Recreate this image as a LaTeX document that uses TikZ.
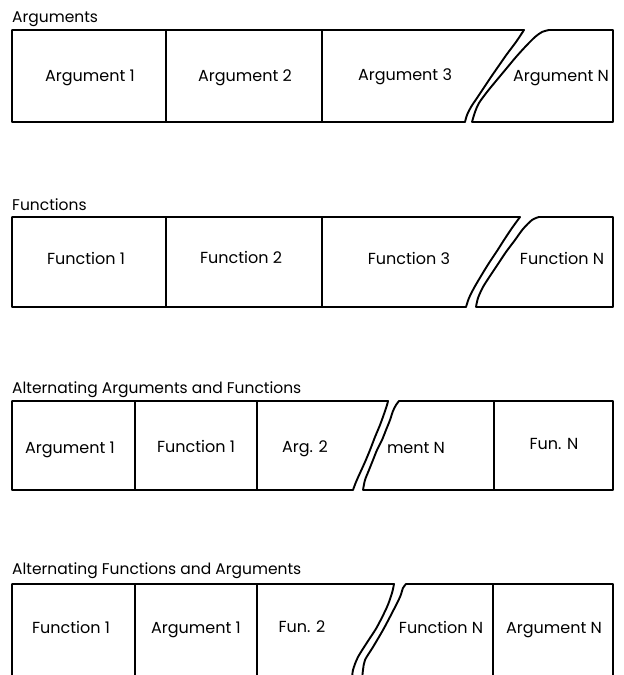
\documentclass[tikz,border=0pt]{standalone}
\usepackage{fontspec}
\setmainfont{Poppins}

\tikzset{
  frame/.style={line width=1.9pt, line join=round, line cap=round},
  sep/.style={line width=1.2pt},
  cell/.style={font=\fontsize{16}{18}\selectfont, anchor=base, inner sep=0pt},
  title/.style={font=\fontsize{15.5}{17}\selectfont, anchor=base west, inner sep=0pt}
}

\begin{document}
\begin{tikzpicture}[x=1pt,y=-1pt]
    \useasboundingbox (0,0) rectangle (624,675);
    % row 1
    \node[title] (argttl) at (12,22) {Arguments};
    \draw[frame] (524,30) -- (12,30) -- (12,122) -- (465,122)
        -- plot[smooth] coordinates {(465,122) (467,115) (471,107) (477,98) (483,89) (491,77) (500,64) (507,54) (516,42) (524,30)} -- cycle;
    \draw[frame] (472,122) -- (613,122) -- (613,30) -- (549,30)
        -- plot[smooth] coordinates {(549,30) (542,32) (535,37) (526,46) (516,57) (506,69) (496,81) (487,92) (479,103) (475,112) (472,122)};
    \draw[sep] (166,30) -- (166,122);
    \draw[sep] (322,30) -- (322,122);
    \node[cell] (arg1) at (90,81) {Argument 1};
    \node[cell] (arg2) at (245,81) {Argument 2};
    \node[cell] (arg3) at (405,80) {Argument 3};
    \node[cell] (argN) at (561,81) {Argument N};
    % row 2
    \node[title] (funttl) at (12,210) {Functions};
    \draw[frame] (520,217) -- (12,217) -- (12,307) -- (466,307)
        -- plot[smooth] coordinates {(466,307) (469,298) (474,288) (481,276) (489,263) (497,251) (504,240) (512,228) (520,217)} -- cycle;
    \draw[frame] (476,307) -- (613,307) -- (613,217) -- (539,217)
        -- plot[smooth] coordinates {(539,217) (532,220) (523,229) (515,240) (506,252) (498,264) (490,276) (483,287) (478,298) (476,307)};
    \draw[sep] (166,217) -- (166,307);
    \draw[sep] (322,217) -- (322,307);
    \node[cell] (fun1) at (86,264) {Function 1};
    \node[cell] (fun2) at (241,263) {Function 2};
    \node[cell] (fun3) at (409,264) {Function 3};
    \node[cell] (funN) at (562,264) {Function N};
    % row 3
    \node[title] (afttl) at (12,393) {Alternating Arguments and Functions};
    \draw[frame] (388,401) -- (12,401) -- (12,490) -- (353,490)
        -- plot[smooth] coordinates {(353,490) (356,482) (360,473) (365,462) (370,450) (375,437) (380,425) (384,414) (387,405) (388,401)} -- cycle;
    \draw[frame] (363,490) -- (613,490) -- (613,401) -- (399,401)
        -- plot[smooth] coordinates {(399,401) (396,405) (393,411) (390,420) (386,430) (382,440) (377,450) (373,460) (369,470) (365,480) (363,490)};
    \draw[sep] (135,401) -- (135,490);
    \draw[sep] (257,401) -- (257,490);
    \draw[sep] (494,401) -- (494,490);
    \node[cell] (af1) at (70,453) {Argument 1};
    \node[cell] (af2) at (196,452) {Function 1};
    \node[cell] (af3) at (305,452) {Arg. 2};
    \node[cell] (af4) at (416,453) {ment N};
    \node[cell] (af5) at (554,449) {Fun. N};
    % row 4
    \node[title] (fattl) at (12,574) {Alternating Functions and Arguments};
    \draw[frame] (12,680) -- (12,584) -- (394,584)
        -- plot[smooth] coordinates {(394,584) (392,593) (387,607) (377,627) (368,641) (358,657) (353,670) (352,680)};
    \draw[frame] (362,680) -- plot[smooth] coordinates {(362,680) (363,670) (365,660) (373,647) (383,630) (392,613) (400,597) (403,588) (406,584)}
        -- (613,584) -- (613,680);
    \draw[sep] (135,584) -- (135,680);
    \draw[sep] (257,584) -- (257,680);
    \draw[sep] (493,584) -- (493,680);
    \node[cell] (fa1) at (71,633) {Function 1};
    \node[cell] (fa2) at (196,633) {Argument 1};
    \node[cell] (fa3) at (302,632) {Fun. 2};
    \node[cell] (fa4) at (441,633) {Function N};
    \node[cell] (fa5) at (554,633) {Argument N};
\end{tikzpicture}
\end{document}
